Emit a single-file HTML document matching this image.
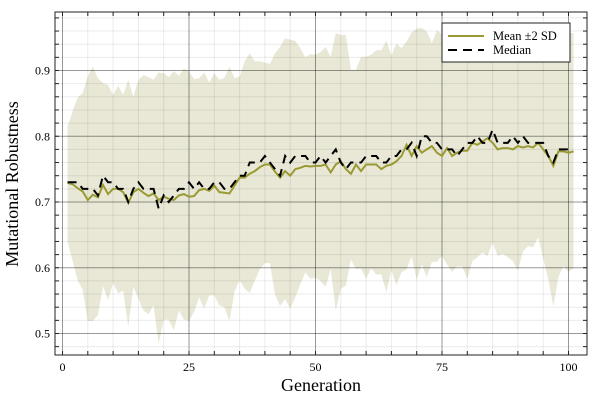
<!DOCTYPE html>
<html><head><meta charset="utf-8"><style>
body{margin:0;background:#fff;width:600px;height:400px;overflow:hidden}
svg text{font-family:"Liberation Serif",serif}
</style></head><body>
<svg id="chart" width="600" height="400" xmlns="http://www.w3.org/2000/svg">
<g id="band"></g>
<g id="grid"></g>
<g id="lines"></g>
<rect x="55" y="12" width="532" height="343" fill="none" stroke="#222" stroke-width="1"/>
<g id="ticks"></g>
<text x="321" y="391" font-size="18" text-anchor="middle">Generation</text>
<text transform="translate(18,184) rotate(-90)" font-size="18" text-anchor="middle">Mutational Robustness</text>
<g>
<rect x="442" y="23" width="128" height="39" fill="#fff" stroke="#222" stroke-width="1"/>
<line x1="448" y1="36" x2="484" y2="36" stroke="#9a9a34" stroke-width="2"/>
<text x="493" y="40" font-size="12.5">Mean ±2 SD</text>
<line x1="448" y1="50" x2="484" y2="50" stroke="#000" stroke-width="2" stroke-dasharray="9,6"/>
<text x="493" y="54" font-size="12.5">Median</text>
</g>
</svg>
<script>
const meanVals=[.729,.727,.721,.716,.703,.711,.707,.726,.712,.72,.72,.715,.699,.715,.72,.714,.709,.713,.703,.708,.705,.703,.71,.712,.708,.709,.718,.72,.717,.725,.715,.714,.713,.725,.737,.737,.743,.747,.753,.757,.757,.746,.737,.747,.74,.75,.752,.755,.754,.755,.755,.757,.745,.757,.762,.75,.743,.757,.747,.757,.757,.757,.75,.755,.757,.762,.77,.787,.77,.785,.775,.78,.785,.775,.77,.782,.77,.775,.778,.778,.79,.787,.792,.797,.79,.78,.782,.782,.78,.785,.783,.785,.783,.79,.78,.77,.755,.777,.777,.775,.777];
const medianVals=[.73,.73,.73,.72,.72,.72,.71,.74,.73,.73,.72,.72,.70,.72,.73,.72,.72,.72,.69,.71,.70,.71,.72,.72,.73,.72,.73,.72,.72,.73,.73,.72,.72,.73,.74,.74,.76,.76,.76,.77,.76,.75,.74,.77,.76,.77,.77,.77,.76,.76,.77,.76,.77,.78,.76,.75,.76,.76,.76,.77,.77,.77,.76,.76,.77,.77,.78,.78,.79,.77,.80,.80,.79,.79,.78,.78,.78,.77,.78,.79,.79,.80,.79,.79,.81,.79,.79,.79,.80,.79,.80,.79,.79,.79,.79,.77,.76,.78,.78,.78,.78];
const upperVals=[.815,.838,.859,.866,.891,.906,.888,.881,.878,.863,.877,.863,.886,.860,.886,.893,.890,.886,.897,.896,.890,.899,.892,.903,.898,.887,.888,.897,.882,.896,.886,.889,.906,.888,.891,.914,.926,.914,.914,.912,.910,.926,.936,.949,.947,.945,.934,.920,.925,.924,.928,.936,.921,.957,.954,.954,.901,.901,.921,.921,.924,.931,.931,.945,.923,.941,.934,.944,.958,.964,.965,.959,.942,.961,.955,.955,.955,.955,.955,.955,.955,.955,.955,.955,.955,.955,.955,.955,.955,.955,.955,.955,.955,.955,.955,.955,.955,.955,.955,.957,.957];
const lowerVals=[.640,.61,.581,.566,.519,.519,.528,.572,.551,.577,.561,.565,.510,.571,.553,.535,.529,.543,.485,.521,.521,.505,.535,.521,.519,.533,.555,.538,.558,.558,.543,.540,.519,.564,.581,.568,.562,.580,.598,.607,.607,.559,.542,.552,.538,.555,.575,.593,.583,.585,.580,.571,.598,.535,.568,.573,.613,.598,.599,.583,.599,.590,.590,.563,.596,.574,.593,.598,.617,.582,.605,.586,.609,.609,.618,.605,.594,.602,.602,.583,.610,.616,.623,.618,.638,.618,.621,.616,.610,.596,.625,.633,.631,.646,.614,.583,.541,.586,.602,.594,.599];
const xTicks=[0,25,50,75,100];
const yTicks=[0.5,0.6,0.7,0.8,0.9];
const NS="http://www.w3.org/2000/svg";
const X=v=>62.5+v*5.06, Y=v=>202-(v-0.7)*657.5;
function mk(tag,attrs,parent){const e=document.createElementNS(NS,tag);for(const k in attrs)e.setAttribute(k,attrs[k]);parent.appendChild(e);return e;}
const band=document.getElementById('band');
let d='';upperVals.forEach((v,i)=>{d+=(i?'L':'M')+X(i+1)+','+Y(v);});
for(let i=lowerVals.length-1;i>=0;i--)d+='L'+X(i+1)+','+Y(lowerVals[i]);
const bp=mk('path',{d:d+'Z',fill:'#e9e8d6'},band);


const grid=document.getElementById('grid');
for(let g=0;g<=100;g+=5){const major=g%25==0;const l=mk('line',{x1:X(g),x2:X(g),y1:12,y2:355,stroke:major?'#000':'#000','stroke-opacity':major?0.4:0.08,'stroke-width':1},grid);


const t1=mk('line',{x1:X(g),x2:X(g),y1:355,y2:351,stroke:'#222'},grid);


const t2=mk('line',{x1:X(g),x2:X(g),y1:12,y2:16,stroke:'#222'},grid);

}
for(let k=24;k<=49;k++){const v=k/50;const y=Y(v);if(y<12||y>355)continue;const major=k%5==0;const l=mk('line',{x1:55,x2:587,y1:y,y2:y,stroke:'#000','stroke-opacity':major?0.4:0.08,'stroke-width':1},grid);


const t1=mk('line',{x1:55,x2:59,y1:y,y2:y,stroke:'#222'},grid);


const t2=mk('line',{x1:583,x2:587,y1:y,y2:y,stroke:'#222'},grid);

}
const lines=document.getElementById('lines');
const mp=mk('path',{d:meanVals.map((v,i)=>(i?'L':'M')+X(i+1)+','+Y(v)).join(''),fill:'none',stroke:'#9a9a34','stroke-width':2},lines);


const dp=mk('path',{d:medianVals.map((v,i)=>(i?'L':'M')+X(i+1)+','+Y(v)).join(''),fill:'none',stroke:'#000','stroke-width':2,'stroke-dasharray':'9,6'},lines);


const ticks=document.getElementById('ticks');
xTicks.forEach(t=>{const e=mk('text',{x:X(t),y:371,'font-size':12,'text-anchor':'middle'},ticks);e.textContent=t;

});
yTicks.forEach(t=>{const e=mk('text',{x:50,y:Y(t)+4,'font-size':12,'text-anchor':'end'},ticks);e.textContent=t.toFixed(1);

});
</script>
</body></html>
